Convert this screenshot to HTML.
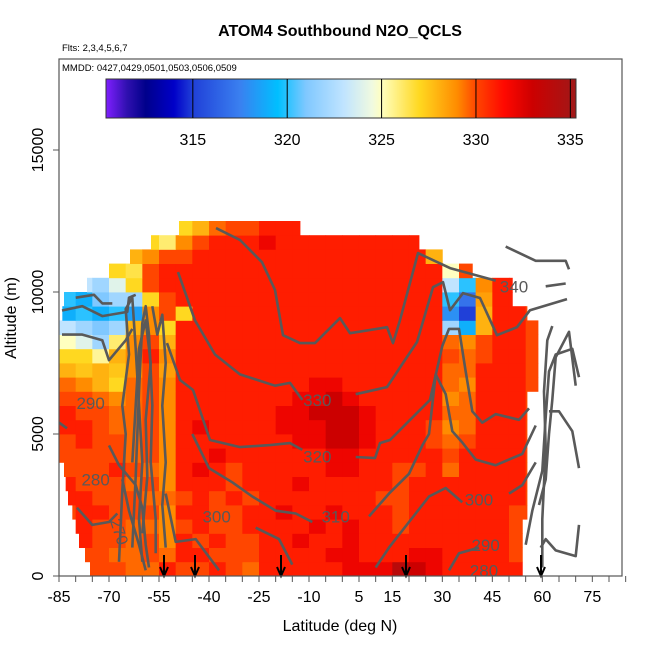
<!DOCTYPE html>
<html><head><meta charset="utf-8"><style>
html,body{margin:0;padding:0;background:#fff;}
svg text{font-family:"Liberation Sans",sans-serif;}
</style></head><body>
<svg id="chart" width="650" height="650" viewBox="0 0 650 650" xmlns="http://www.w3.org/2000/svg">
<defs><clipPath id="pclip"><rect x="59" y="59" width="563" height="517"/></clipPath></defs>
<text x="340" y="36" text-anchor="middle" font-size="16" font-weight="bold">ATOM4 Southbound N2O_QCLS</text>
<text x="62" y="51" font-size="9.5">Flts: 2,3,4,5,6,7</text>
<g id="heat" clip-path="url(#pclip)"></g>
<g id="cont" clip-path="url(#pclip)"></g>
<g id="arrows"></g>
<rect x="59" y="59" width="563" height="517" fill="none" stroke="#555" stroke-width="1.2"/>
<text x="62" y="71" font-size="9.5">MMDD: 0427,0429,0501,0503,0506,0509</text>
<g id="cbar"></g>
<g id="axes"></g>
<text x="340" y="631" text-anchor="middle" font-size="16">Latitude (deg N)</text>
<text x="16" y="318" text-anchor="middle" font-size="16" transform="rotate(-90 16 318)">Altitude (m)</text>
</svg>
<script>
const latBins=[-85,-80,-75,-70,-65,-60,-55,-50,-45,-40,-35,-30,-25,-20,-15,-10,-5,0,5,10,15,20,25,30,35,40,45,50,55,60,65];
const altStep=500;
const rowLatMin=[-75.7,-77.2,-79,-80,-81,-82.3,-83,-83.5,-85,-85,-85,-85,-85,-85,-85,-85,-85,-85,-84,-83.5,-76.6,-70,-63.7,-57.4,-49];
const rowLatMax=[54,54,54,54,55.4,55.4,55.4,55.4,55.4,55.4,55.4,55.4,55.4,58.7,58.7,58.7,58.7,58.7,55.4,51,51,39,30,23,-12.7];
const rowValues=[
"330 330 330 330 329.5 329.5 331 330 330 331 330 329.5 331 331 331 331 331 332 332 332 334 333 332 331 331 331 331 331 331 331",
"330 330 330 329.5 329.5 330 329.5 331 331 330 330 330 331 331 331 331 332 332 331 331 331 332 332 331 331 331 331 330 330 330",
"331 331 330 330 329.5 330 329 331 330 331 330 330 331 331 332 331 331 332 331 331 331 331 331 331 331 331 331 330 330 330",
"331 331 330 330 329.5 329.5 329 330 331 330 330 331 331 331 331 332 331 332 331 331 330 331 331 331 331 331 331 330 330 330",
"330 331 331 330 330 330 329 331 331 330 330 331 331 332 331 331 332 331 331 331 330 331 331 331 331 331 331 330 330 330",
"331 331 330 330 330 329.5 329.5 330 331 330 331 330 331 331 331 331 331 331 331 330 330 331 331 331 331 331 331 331 330 330",
"331 330 330 330 329.5 330 329 331 331 331 330 331 331 331 332 331 331 331 331 331 330 331 331 331 331 331 331 331 330 330",
"330 330 330 331 330 329.5 329 331 332 331 330 331 331 331 331 331 332 332 331 331 330 330 331 329.5 331 331 331 331 330 330",
"330 330 330 330 329.5 330 329 331 331 332 331 331 331 331 331 331 332 332 331 331 331 331 331 330 331 331 331 331 330 330",
"330 331 330 330 329.5 330 329 331 331 331 331 331 331 331 332 332 333 333 332 331 331 331 330 329.5 330 331 331 331 330 330",
"331 331 330 329.5 329.5 330 329 331 332 331 331 331 331 332 332 332 333 333 332 331 331 331 330 329 329.5 331 331 331 330 330",
"331 330 330 329.5 329.5 330 329 331 331 331 331 331 331 332 332 333 333 333 332 331 331 331 331 329.5 329.5 331 331 331 330 330",
"330 330 329.5 329 329.5 330 329 331 331 331 331 331 331 331 332 332 333 332 331 331 331 331 331 329 329.5 331 331 331 330 330",
"329.5 329 328 327 329.5 330 329 331 331 331 331 331 331 331 331 332 332 331 331 331 331 331 331 329.5 329 331 331 331 330 330",
"328 327.5 328 327.5 329 330 328.5 331 331 331 331 331 331 331 331 331 331 331 331 331 331 331 331 329.5 329.5 331 331 331 330 330",
"327 327 325.5 328 329 331 329 331 331 331 331 331 331 331 331 331 331 331 331 331 331 331 331 330 329.5 330 331 331 330 330",
"325 324 322 326 329 330 328 331 331 331 331 331 331 331 331 331 331 331 331 331 331 331 331 329.5 329 330 331 331 330 330",
"323 322 321 322 328 329 327 331 331 331 331 331 331 331 331 331 331 331 331 331 331 331 331 322 319 328 331 331 330 330",
"319 320 319 320 318.5 329 330 327 331 331 331 331 331 331 331 331 331 331 331 331 331 331 331 318 315 328 331 331 330 330",
"320 319 321 322 322 327 330 331 331 331 331 331 331 331 331 331 331 331 331 331 331 331 331 320 317 328.5 331 331 330 330",
"323 323 322 324 327 330 331 331 331 331 331 331 331 331 331 331 331 331 331 331 331 331 331 323 320 329 331 331 330 330",
"327 327 327 327 326.5 330 331 331 331 331 331 331 331 331 331 331 331 331 331 331 331 331 331 325 330 331 331 331 330 330",
"328 328 328 328 328 329 330 330 331 331 331 331 331 331 331 331 331 331 331 331 331 331 328 331 331 331 331 331 330 330",
"327 327 327 327 327 327 326 329 330 331 331 331 332 331 331 331 331 331 331 331 331 331 331 331 331 331 331 331 330 330",
"326 326 326 326 326 326 326 327 328 329.5 330 330 331 331 331 331 331 331 331 331 331 331 331 331 331 331 331 331 330 330"];
const xTickLabels=[-85,-70,-55,-40,-25,-10,5,15,30,45,60,75];
const yTickLabels=[0,5000,10000,15000];
const cbarTicks=[315,320,325,330,335];
const cbarRange=[310.4,335.3];
const arrowLats=[-53.5,-44.2,-18.4,19.1,59.6];
const contours=[
{lvl:"340",pts:[[-37.9,12.25],[-30.7,11.83],[-24.1,11.05],[-20.2,10.07],[-17.8,8.48],[-12.7,8.2],[-8.2,8.2],[-0.7,9.08],[2.3,8.55],[13.4,8.76],[15.2,8.2],[17.3,9.01],[22.7,11.37],[32.3,10.84],[46,10.4]]},
{lvl:"340",pts:[[61,10.2],[67,10.3]]},
{lvl:"340",pts:[[49,11.6],[58,11.1],[67,11.1],[68,10.8]]},
{lvl:"330",pts:[[-49.3,10.7],[-44.2,9.0],[-38.2,7.8],[-30.7,7.1],[-20.2,6.7],[-15.7,6.8],[-12,6.2]]},
{lvl:"330",pts:[[4,6.4],[13.4,6.65],[18.2,7.5],[22.4,8.24],[27.2,10.17],[30.2,10.35],[32.3,9.36],[36.2,9.96],[41.3,9.79],[46.4,8.48],[52.4,8.76],[56.3,9.36],[67.4,9.75]]},
{lvl:"320",pts:[[-52.6,8.2],[-48.7,6.9],[-44.8,6.55],[-39.7,4.79],[-30.7,4.54],[-21.7,4.61],[-15.7,4.68],[-12,4.44]]},
{lvl:"320",pts:[[4,4.19],[9.8,4.15],[11.3,4.68],[14.3,4.79],[19.4,5.39],[26.3,6.2],[30,8.1],[32,8.7],[35,8.7],[37,7.2],[39,5.8],[42,5.4],[46,5.7],[53,5.5],[56,5.9]]},
{lvl:"310",pts:[[-45,5.0],[-40,3.8],[-33,3.3],[-27,2.8],[-20,2.3],[-14,2.2],[-9,1.9]]},
{lvl:"310",pts:[[8,2.1],[14,2.9],[20,3.6],[24,4.6],[26,5.0],[28,7.1],[31,6.4],[33,5.1],[36,4.7],[40,4.1],[46,3.9],[54,4.3],[58,5.3]]},
{lvl:"300",pts:[[-53,2.9],[-50,1.2],[-44,1.3],[-37,0.2]]},
{lvl:"300",pts:[[-26,1.7],[-19,1.3],[-15,0.4]]},
{lvl:"300",pts:[[10,0.3],[14,1.0],[20,1.9],[26,2.8],[31,3.1],[36,2.6]]},
{lvl:"300",pts:[[50,2.9],[54,3.2],[58,4.0]]},
{lvl:"290",pts:[[32,0.2],[35,0.8],[41,1.0]]},
{lvl:"290",pts:[[55,1.1],[57,2.3],[60,3.7],[61,5.6],[62,7.2],[64,7.8],[69,8.0],[71,7.0]]},
{lvl:"290",pts:[[-85,5.4],[-82.6,5.2]]},
{lvl:"290",pts:[[-70,4.6],[-67,3.9],[-62,3.2],[-60,2.4],[-59,1.1],[-58,0.3]]},
{lvl:"280",pts:[[-79.6,2.4],[-75,1.8],[-70,1.9],[-67.5,2.2]]},
{lvl:"280",pts:[[-66,3.4],[-64,2.3],[-61,1.1],[-59,0.2]]},
{lvl:"t",pts:[[-67,0.5],[-66,3],[-65,5],[-66,6],[-64,7.8],[-65,9.4],[-63,9.8],[-62,8],[-61,6],[-60,4],[-61,2],[-60,0.5]]},
{lvl:"t",pts:[[-63,1],[-62,3.5],[-61,6.5],[-60,8.9],[-59,9.5],[-58,8.5],[-57,6],[-57.5,4],[-56,2],[-56,0.8]]},
{lvl:"t",pts:[[-57,9.5],[-55.5,8.5],[-54,9.2],[-53,7.5],[-54,6],[-53,4],[-54,2.5],[-53,1]]},
{lvl:"t",pts:[[-60,1.5],[-58.5,3.5],[-59,5.5],[-57.5,7.5],[-59,9],[-61,8],[-62,6],[-63,4]]},
{lvl:"t",pts:[[-84.1,9.35],[-78,9.5],[-72,9.15],[-64.5,9.3],[-64,9.8],[-62,9.9]]},
{lvl:"t",pts:[[-84.1,8.5],[-78,8.5],[-72,8.3],[-70,7.6],[-65,8.3],[-63,8.7]]},
{lvl:"t",pts:[[-80,9.8],[-74.5,9.9],[-72,9.6],[-69,9.6]]},
{lvl:"r",pts:[[59.5,1.0],[61,1.3],[64,0.9],[70,0.7],[71,1.8]]},
{lvl:"r",pts:[[62,5.8],[65,5.8],[69,5.1],[71,3.8]]},
{lvl:"r",pts:[[60,0.3],[60,2],[61,4.5],[60.5,6.5],[61.5,8.3],[63,8.8]]},
{lvl:"r",pts:[[59,2.5],[61,3.4],[62,5],[63,6.2],[64,7.7],[68,8.6],[70,6.7]]}];
const contourLabels=[["340",51.5,10.2],["330",-7.5,6.2],["320",-7.5,4.2],["310",-2,2.1],["300",-37.7,2.1],["300",41,2.7],["290",-75.5,6.1],["290",43,1.1],["280",-74,3.4],["280",42.5,0.2]];

const NS="http://www.w3.org/2000/svg";
const xS=lat=>59+(lat+85)*3.3333;
const yS=alt=>576-alt*0.0284;
const stops=[[310.4,[127,31,255]],[311.5,[48,16,176]],[312.5,[0,0,139]],[314,[0,0,200]],[315,[32,64,216]],[317.5,[58,128,240]],[319.5,[0,191,255]],[321,[128,200,255]],[323,[192,228,255]],[324.5,[240,250,224]],[325,[255,255,192]],[327,[255,216,32]],[329,[255,140,0]],[330,[255,70,0]],[331.5,[255,8,0]],[333,[204,0,0]],[335.3,[160,24,24]]];
function col(v){
  if(v<=stops[0][0])return 'rgb('+stops[0][1]+')';
  for(let i=1;i<stops.length;i++){if(v<=stops[i][0]){const a=stops[i-1],b=stops[i],t=(v-a[0])/(b[0]-a[0]);return 'rgb('+a[1].map((c,k)=>Math.round(c+(b[1][k]-c)*t)).join(',')+')';}}
  return 'rgb('+stops[stops.length-1][1]+')';
}
function mk(tag,attrs,parent){const e=document.createElementNS(NS,tag);for(const k in attrs)e.setAttribute(k,attrs[k]);parent.appendChild(e);return e;}
const heat=document.getElementById('heat');
rowValues.forEach((row,r)=>{
  const vals=row.split(' ').map(Number);
  const y0=yS((r+1)*altStep),y1=yS(r*altStep);
  vals.forEach((v,c)=>{
    const a=Math.max(latBins[c],rowLatMin[r]),b=Math.min(latBins[c+1],rowLatMax[r]);
    if(b<=a)return;
    const e=mk('rect',{x:xS(a),y:y0,width:xS(b)-xS(a)+0.4,height:y1-y0+0.4,fill:col(v)},heat);
    
    
  });
});
const cont=document.getElementById('cont');
contours.forEach(cn=>{
  const e=mk('polyline',{points:cn.pts.map(p=>xS(p[0]).toFixed(1)+','+yS(p[1]*1000).toFixed(1)).join(' '),fill:'none',stroke:'#595959','stroke-width':2.6,'stroke-linejoin':'round'},cont);
  
  
});
contourLabels.forEach(l=>{
  const e=mk('text',{x:xS(l[1]),y:yS(l[2]*1000)+6,'text-anchor':'middle','font-size':17,fill:'#595959'},cont);
  e.textContent=l[0];
  
  
});
const t270=mk('text',{x:0,y:0,'text-anchor':'middle','font-size':16,fill:'#595959',transform:'translate('+xS(-68.5)+','+yS(1500)+') rotate(72)'},cont);
t270.textContent='270';


const arr=document.getElementById('arrows');
arrowLats.forEach(l=>{
  const x=xS(l);
  const g=mk('g',{},arr);
  
  
  mk('line',{x1:x,y1:555,x2:x,y2:575,stroke:'#000','stroke-width':2},g);
  mk('polyline',{points:(x-4)+',567 '+x+',576 '+(x+4)+',567',fill:'none',stroke:'#000','stroke-width':2},g);
});
const cb=document.getElementById('cbar');
const cx=v=>106+(v-cbarRange[0])*(470/(cbarRange[1]-cbarRange[0]));
const defs=mk('defs',{},cb);
const lg=mk('linearGradient',{id:'cg',x1:0,x2:1,y1:0,y2:0},defs);
stops.forEach(s=>{mk('stop',{offset:((s[0]-cbarRange[0])/(cbarRange[1]-cbarRange[0])).toFixed(4),'stop-color':'rgb('+s[1]+')'},lg);});
const cr=mk('rect',{x:106,y:79,width:470,height:39,fill:'url(#cg)',stroke:'#333','stroke-width':1},cb);


cbarTicks.forEach(v=>{
  mk('line',{x1:cx(v),y1:79,x2:cx(v),y2:118,stroke:'#000','stroke-width':1},cb);
  const t=mk('text',{x:cx(v),y:145,'text-anchor':'middle','font-size':16},cb);
  t.textContent=v;
  
  
});
const ax=document.getElementById('axes');
for(let l=-85;l<=85;l+=5){mk('line',{x1:xS(l),y1:576,x2:xS(l),y2:582,stroke:'#555','stroke-width':1},ax);}
xTickLabels.forEach(l=>{
  const t=mk('text',{x:xS(l),y:602,'text-anchor':'middle','font-size':16},ax);
  t.textContent=l;
  
  
});
yTickLabels.forEach(a=>{
  mk('line',{x1:53,y1:yS(a),x2:59,y2:yS(a),stroke:'#555','stroke-width':1},ax);
  const t=mk('text',{x:0,y:0,'text-anchor':'middle','font-size':16,transform:'translate(43,'+yS(a)+') rotate(-90)'},ax);
  t.textContent=a;
  
  
});
</script>
</body></html>
